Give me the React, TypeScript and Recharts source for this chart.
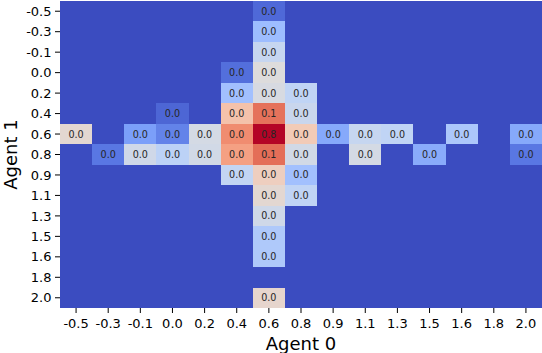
import React from "react";
import { ScatterChart, Scatter, XAxis, YAxis } from "recharts";

// Axis categories (column = Agent 0, row = Agent 1)
const xLabels = ["-0.5", "-0.3", "-0.1", "0.0", "0.2", "0.4", "0.6", "0.8", "0.9", "1.1", "1.3", "1.5", "1.6", "1.8", "2.0"];
const yLabels = ["-0.5", "-0.3", "-0.1", "0.0", "0.2", "0.4", "0.6", "0.8", "0.9", "1.1", "1.3", "1.5", "1.6", "1.8", "2.0"];

// Cell values per row (0 = empty cell)
const rowM05 = [0, 0, 0, 0, 0, 0, 6e-6, 0, 0, 0, 0, 0, 0, 0, 0];
const rowM03 = [0, 0, 0, 0, 0, 0, 1.1e-4, 0, 0, 0, 0, 0, 0, 0, 0];
const rowM01 = [0, 0, 0, 0, 0, 0, 5.2e-4, 0, 0, 0, 0, 0, 0, 0, 0];
const row00 = [0, 0, 0, 0, 0, 7e-6, 1.4e-3, 0, 0, 0, 0, 0, 0, 0, 0];
const row02 = [0, 0, 0, 0, 0, 1.3e-4, 1.1e-3, 4e-4, 0, 0, 0, 0, 0, 0, 0];
const row04 = [0, 0, 0, 5.4e-6, 0, 7.4e-3, 0.1, 5.9e-4, 0, 0, 0, 0, 0, 0, 0];
const row06 = [2.1e-3, 0, 3.2e-5, 1.3e-5, 9.7e-4, 0.049, 0.8, 5e-3, 4.7e-5, 5.2e-4, 4e-4, 0, 1.9e-4, 0, 4.7e-5];
const row08 = [0, 9e-6, 7.6e-4, 3.5e-4, 8.6e-4, 0.026, 0.11, 8.6e-4, 0, 9.7e-4, 0, 5.3e-5, 0, 0, 9e-6];
const row09 = [0, 0, 0, 0, 0, 4.5e-4, 3.9e-3, 1.3e-4, 0, 0, 0, 0, 0, 0, 0];
const row11 = [0, 0, 0, 0, 0, 0, 2.1e-3, 4e-4, 0, 0, 0, 0, 0, 0, 0];
const row13 = [0, 0, 0, 0, 0, 0, 7.6e-4, 0, 0, 0, 0, 0, 0, 0, 0];
const row15 = [0, 0, 0, 0, 0, 0, 2.1e-4, 0, 0, 0, 0, 0, 0, 0, 0];
const row16 = [0, 0, 0, 0, 0, 0, 2.1e-4, 0, 0, 0, 0, 0, 0, 0, 0];
const row18 = [0, 0, 0, 0, 0, 0, 0, 0, 0, 0, 0, 0, 0, 0, 0];
const row20 = [0, 0, 0, 0, 0, 0, 2.4e-3, 0, 0, 0, 0, 0, 0, 0, 0];

const rows = [rowM05, rowM03, rowM01, row00, row02, row04, row06, row08, row09, row11, row13, row15, row16, row18, row20];

const cells = rows.flatMap((r, yi) => r.map((v, xi) => ({ x: xi, y: yi, v })));

// coolwarm colormap stops
const CW = ["#3b4cc0", "#5977e3", "#7b9ff9", "#9ebeff", "#c0d4f5", "#dddcdc", "#f2cbb7", "#f7ac8e", "#ee8468", "#d65244", "#b40426"];
const hex = (h: string) => [1, 3, 5].map((i) => parseInt(h.slice(i, i + 2), 16));
const coolwarm = (t: number) => {
  const tt = Math.max(0, Math.min(1, t)) * (CW.length - 1);
  const i = Math.min(CW.length - 2, Math.floor(tt));
  const f = tt - i;
  const a = hex(CW[i]);
  const b = hex(CW[i + 1]);
  const c = a.map((av, k) => Math.round(av + (b[k] - av) * f));
  return `rgb(${c[0]},${c[1]},${c[2]})`;
};
const VMAX = 0.8;
const DECADES = 5.5;
const colorFor = (v: number) => {
  if (v <= 0) return CW[0];
  return coolwarm(1 - Math.log10(VMAX / v) / DECADES);
};

const W = 542;
const H = 353;
const M = { top: 1, right: 0, bottom: 0, left: 0 };
const YAXIS_W = 60;
const XAXIS_H = 45;
const PLOT_W = W - M.left - M.right - YAXIS_W;
const PLOT_H = H - M.top - M.bottom - XAXIS_H;
const CELL_W = PLOT_W / xLabels.length;
const CELL_H = PLOT_H / yLabels.length;

const CellShape = (props: any) => {
  const { cx, cy, payload } = props;
  const v = payload.v as number;
  return (
    <g>
      <rect
        x={cx - CELL_W / 2}
        y={cy - CELL_H / 2}
        width={CELL_W + 0.5}
        height={CELL_H + 0.5}
        fill={colorFor(v)}
        shapeRendering="crispEdges"
      />
      {v > 0 ? (
        <text x={cx} y={cy} textAnchor="middle" dominantBaseline="central" fontSize={9.6} fill="#262626">
          {v.toFixed(1)}
        </text>
      ) : null}
    </g>
  );
};

const idx = xLabels.map((_, i) => i);

export default function App() {
  return (
    <div style={{ position: "absolute", left: 0, top: 0, fontFamily: "'DejaVu Sans', sans-serif" }}>
      <ScatterChart width={W} height={H} margin={M}>
        <XAxis
          type="number"
          dataKey="x"
          domain={[-0.5, 14.5]}
          ticks={idx}
          interval={0}
          allowDataOverflow
          tickFormatter={(v: number) => xLabels[v]}
          height={XAXIS_H}
          tickSize={5}
          tickMargin={5.5}
          axisLine={false}
          tickLine={{ stroke: "#000" }}
          tick={{ fontSize: 13, fill: "#000" }}
          label={{ value: "Agent 0", position: "insideBottom", offset: 3.5, fill: "#000", fontSize: 18 }}
        />
        <YAxis
          type="number"
          dataKey="y"
          domain={[-0.5, 14.5]}
          reversed
          ticks={idx}
          interval={0}
          allowDataOverflow
          tickFormatter={(v: number) => yLabels[v]}
          width={YAXIS_W}
          tickSize={5}
          tickMargin={3.5}
          axisLine={false}
          tickLine={{ stroke: "#000" }}
          tick={{ fontSize: 13, fill: "#000" }}
          label={{ value: "Agent 1", angle: -90, position: "insideLeft", offset: 10.6, fill: "#000", fontSize: 18, style: { textAnchor: "middle" } }}
        />
        <Scatter data={cells} shape={(p: any) => <CellShape {...p} />} isAnimationActive={false} />
      </ScatterChart>
    </div>
  );
}
